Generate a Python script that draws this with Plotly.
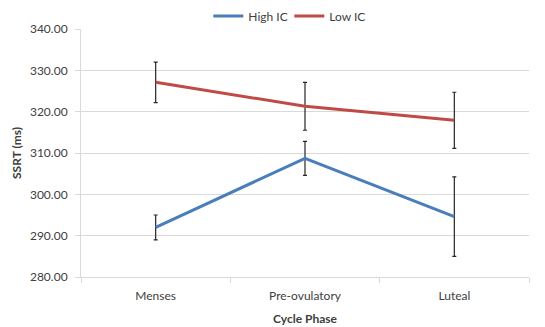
import plotly.graph_objects as go

categories = ["Menses", "Pre-ovulatory", "Luteal"]
high_ic = [292.0, 308.7, 294.6]
high_ic_err = [3.0, 4.1, 9.6]
low_ic = [327.1, 321.3, 317.9]
low_ic_err = [4.9, 5.8, 6.8]
y_ticks = [280, 290, 300, 310, 320, 330, 340]
y_tick_labels = ["280.00", "290.00", "300.00", "310.00", "320.00", "330.00", "340.00"]

font_family = "Lato, 'Liberation Sans', sans-serif"
fs = 12

fig = go.Figure()
fig.add_trace(go.Scatter(
    x=categories, y=high_ic, name="High IC", mode="lines",
    line=dict(color="#4A7EBB", width=3),
    error_y=dict(type="data", array=high_ic_err, color="#262626", thickness=1.2, width=2),
))
fig.add_trace(go.Scatter(
    x=categories, y=low_ic, name="Low IC", mode="lines",
    line=dict(color="#BE4B48", width=3),
    error_y=dict(type="data", array=low_ic_err, color="#262626", thickness=1.2, width=2),
))

fig.update_layout(
    width=545, height=327,
    margin=dict(l=81, r=16, t=29, b=50, autoexpand=False),
    paper_bgcolor="white", plot_bgcolor="white",
    font=dict(family=font_family, size=fs, color="#404040"),
    legend=dict(orientation="h", x=0.465, xanchor="center", y=1.052, yanchor="middle",
                font=dict(size=fs, color="#404040"), itemwidth=30,
                entrywidth=36, entrywidthmode="pixels",
                traceorder="normal", bgcolor="rgba(0,0,0,0)"),
    showlegend=True,
)
fig.update_xaxes(
    type="category", range=[-0.5, 2.5], showgrid=False, showline=True,
    linecolor="#D9D9D9", linewidth=1,
    ticks="outside", tickson="boundaries", ticklen=5, tickcolor="#D9D9D9",
    ticklabelstandoff=8,
    tickfont=dict(size=fs, color="#404040"),
    title=dict(text="<b>Cycle Phase</b>", font=dict(size=fs, color="#404040"), standoff=12),
)
fig.update_yaxes(
    range=[280, 340], tickvals=y_ticks, ticktext=y_tick_labels,
    showgrid=True, gridcolor="#D9D9D9", gridwidth=1,
    showline=True, linecolor="#D9D9D9", linewidth=1,
    ticks="outside", ticklen=5, tickcolor="#D9D9D9",
    ticklabelstandoff=5,
    tickfont=dict(size=fs, color="#404040"), zeroline=False,
    title=dict(text="<b>SSRT (ms)</b>", font=dict(size=fs, color="#404040"), standoff=5),
)

fig.write_html("out.html", config={"displayModeBar": False},
               post_script="document.body.style.margin='0';document.body.style.overflow='hidden';")
